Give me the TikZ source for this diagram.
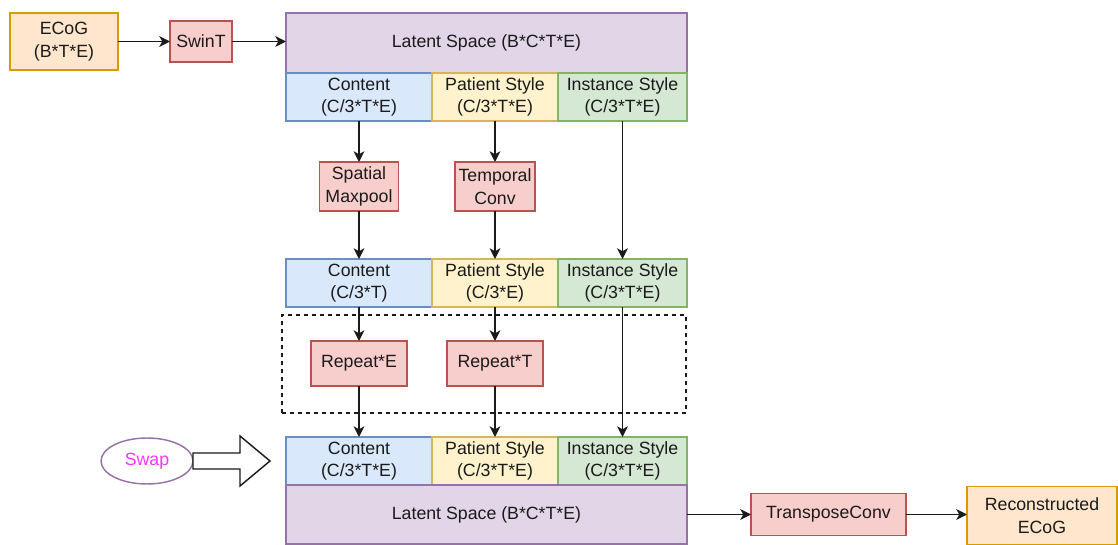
\documentclass[tikz,border=0pt]{standalone}
\usepackage{fontspec}
\setmainfont{Liberation Sans}
\usetikzlibrary{shapes.geometric,arrows.meta}

\definecolor{orangefill}{HTML}{FFE6CC}\definecolor{orangeline}{HTML}{D79B00}
\definecolor{redfill}{HTML}{F8CECC}\definecolor{redline}{HTML}{B85450}
\definecolor{purplefill}{HTML}{E1D5E7}\definecolor{purpleline}{HTML}{9673A6}
\definecolor{bluefill}{HTML}{DAE8FC}\definecolor{blueline}{HTML}{6C8EBF}
\definecolor{yellowfill}{HTML}{FFF2CC}\definecolor{yellowline}{HTML}{D6B656}
\definecolor{greenfill}{HTML}{D5E8D4}\definecolor{greenline}{HTML}{82B366}
\definecolor{txt}{HTML}{1A1A1A}
\definecolor{swaptxt}{HTML}{FF33FF}

\begin{document}
\begin{tikzpicture}[x=0.75pt,y=-0.75pt,
  every node/.style={font=\fontsize{13.3}{17}\selectfont, text=txt, align=center,
    inner sep=0pt, outer sep=0pt, line width=1.1pt},
  box/.style 2 args={draw=#2, fill=#1, rectangle},
  io/.style={box={orangefill}{orangeline}},
  op/.style={box={redfill}{redline}},
  latent/.style={box={purplefill}{purpleline}, minimum width=401*0.75pt},
  content/.style={box={bluefill}{blueline}, minimum width=146*0.75pt, minimum height=48*0.75pt},
  patient/.style={box={yellowfill}{yellowline}, minimum width=126*0.75pt, minimum height=48*0.75pt},
  instance/.style={box={greenfill}{greenline}, minimum width=129*0.75pt, minimum height=48*0.75pt},
  arr/.style={draw=txt, line width=1.2pt, -{Stealth[length=8pt,width=8pt,inset=2.2pt]}}
]
\useasboundingbox (0,0) rectangle (1118,545);

% input and encoder
\node[io, minimum width=108*0.75pt, minimum height=57*0.75pt] (ecog) at (64,41.5) {ECoG\\(B*T*E)};
\node[op, minimum width=62*0.75pt, minimum height=41*0.75pt] (swint) at (201,41.5) {SwinT};

% latent space and its split
\node[latent, minimum height=60*0.75pt] (lattop) at (486.5,43) {Latent Space (B*C*T*E)};
\node[content]  (c1) at (359,97)   {Content\\(C/3*T*E)};
\node[patient]  (p1) at (495,97)   {Patient Style\\(C/3*T*E)};
\node[instance] (i1) at (622.5,97) {Instance Style\\(C/3*T*E)};

% reductions
\node[op, minimum width=79*0.75pt, minimum height=49*0.75pt] (spatial) at (359,186.5) {Spatial\\Maxpool};
\node[op, minimum width=80*0.75pt, minimum height=49*0.75pt] (temporal) at (495,186.5) {Temporal\\Conv};

% reduced codes
\node[content]  (c2) at (359,283)   {Content\\(C/3*T)};
\node[patient]  (p2) at (495,283)   {Patient Style\\(C/3*E)};
\node[instance] (i2) at (622.5,283) {Instance Style\\(C/3*T*E)};

% expansion group
\node[draw=txt, dashed, line width=1.1pt, minimum width=404*0.75pt, minimum height=98*0.75pt] (group) at (484,364) {};
\node[op, minimum width=96*0.75pt, minimum height=45*0.75pt] (repe) at (359,363.5) {Repeat*E};
\node[op, minimum width=96*0.75pt, minimum height=45*0.75pt] (rept) at (495,363.5) {Repeat*T};

% recombined codes
\node[content]  (c3) at (359,461)   {Content\\(C/3*T*E)};
\node[patient]  (p3) at (495,461)   {Patient Style\\(C/3*T*E)};
\node[instance] (i3) at (622.5,461) {Instance Style\\(C/3*T*E)};
\node[latent, minimum height=59*0.75pt] (latbot) at (486.5,514.5) {Latent Space (B*C*T*E)};

% swap marker
\node[draw=purpleline, fill=white, ellipse, minimum width=92*0.75pt, minimum height=46*0.75pt, text=swaptxt] (swap) at (147,461) {Swap};
\coordinate (tip) at (270,461);
\draw[draw=txt, fill=white, line width=1.1pt]
  (swap.east |- 0,453) -- (240,453) -- (240,436) -- (tip) -- (240,486) -- (240,469) -- (swap.east |- 0,469) -- cycle;

% decoder and output
\node[op, minimum width=155*0.75pt, minimum height=42*0.75pt] (tconv) at (828.5,514.5) {TransposeConv};
\node[io, minimum width=150*0.75pt, minimum height=58*0.75pt] (recon) at (1042,515.5) {Reconstructed\\ECoG};

% connectors
\draw[arr] (ecog.east) -- (swint.west);
\draw[arr] (swint.east) -- (swint.east -| lattop.west);
\draw[arr] (c1.south) -- (spatial.north);
\draw[arr] (p1.south) -- (temporal.north);
\draw[arr] (spatial.south) -- (c2.north);
\draw[arr] (temporal.south) -- (p2.north);
\draw[arr] (i1.south) -- (i2.north);
\draw[arr] (c2.south) -- (repe.north);
\draw[arr] (p2.south) -- (rept.north);
\draw[arr] (repe.south) -- (c3.north);
\draw[arr] (rept.south) -- (p3.north);
\draw[arr] (i2.south) -- (i3.north);
\draw[arr] (latbot.east) -- (tconv.west);
\draw[arr] (tconv.east) -- (tconv.east -| recon.west);
\end{tikzpicture}
\end{document}
